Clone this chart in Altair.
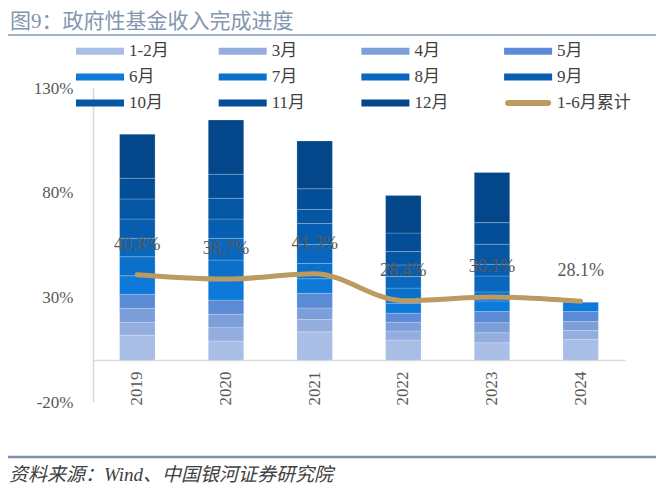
import altair as alt
import pandas as pd

years = ["2019", "2020", "2021", "2022", "2023", "2024"]
months = ["1-2月", "3月", "4月", "5月", "6月", "7月", "8月", "9月", "10月", "11月", "12月"]

m1_2 = [11.9, 9.1, 13.5, 9.6, 8.3, 9.9]
m3 = [6.1, 6.4, 5.9, 4.3, 4.8, 4.2]
m4 = [6.7, 6.4, 5.5, 4.2, 4.8, 4.3]
m5 = [6.7, 6.8, 7.0, 4.3, 5.3, 4.8]
m6 = [8.9, 10.4, 7.0, 4.8, 5.1, 4.4]
m7 = [9.1, 8.7, 7.3, 7.2, 4.3, None]
m8 = [8.8, 10.4, 9.1, 5.5, 7.6, None]
m9 = [9.2, 9.2, 10.0, 5.6, 5.6, None]
m10 = [9.6, 9.9, 6.7, 6.4, 9.6, None]
m11 = [9.9, 11.5, 9.9, 8.8, 10.3, None]
m12 = [21.0, 25.9, 22.8, 18.0, 23.9, None]
cum_1_6 = [40.8, 38.7, 41.3, 28.4, 30.1, 28.1]
line_name = "1-6月累计"

y_ticks = [-20, 30, 80, 130]

title_text = "图9：政府性基金收入完成进度"
source_text = "资料来源：Wind、中国银河证券研究院"

month_colors = ["#A8BEE5", "#93ADDF", "#7C9ED9", "#5B8BD5", "#0D7AD9", "#0A70CA",
                "#0967BD", "#075EB0", "#0557A4", "#044E97", "#03468A"]
gold = "#BC9A62"
serif = "Liberation Serif, Noto Sans CJK SC"

series = [m1_2, m3, m4, m5, m6, m7, m8, m9, m10, m11, m12]
rows = []
for mi, (mname, vals) in enumerate(zip(months, series)):
    for y, v in zip(years, vals):
        if v is not None:
            rows.append({"year": y, "month": mname, "mi": mi, "value": v})
bars_df = pd.DataFrame(rows)

line_df = pd.DataFrame({"year": years, "cum": cum_1_6,
                        "lab": [f"{v:.1f}%" for v in cum_1_6]})

leg_labels = months + [line_name]
leg_colors = month_colors + [gold]
leg_df = pd.DataFrame({"label": leg_labels, "i": list(range(len(leg_labels)))})
leg_df["col"] = leg_df["i"] % 4
leg_df["row"] = leg_df["i"] // 4
leg_df["isline"] = leg_df["label"] == line_name

x_enc = alt.X("year:N", sort=years,
              scale=alt.Scale(paddingInner=0.6, paddingOuter=0.3),
              axis=alt.Axis(title=None, labelAngle=270, ticks=False, labelPadding=11,
                            offset=-42, domainColor="#D9D9D9", domainWidth=1.5,
                            labelFont=serif, labelFontSize=17, labelColor="#595959"))
y_scale = alt.Scale(domain=[-20, 130], nice=False, zero=False)

bars = alt.Chart(bars_df).mark_bar(stroke="#FFFFFF", strokeWidth=0.6, strokeOpacity=0.35).encode(
    x=x_enc,
    y=alt.Y("value:Q", stack="zero", scale=y_scale,
            axis=alt.Axis(title=None, values=y_ticks, ticks=False, grid=False, labelPadding=20,
                          labelExpr="datum.value + '%'", domainColor="#D9D9D9", domainWidth=1.5,
                          labelFont=serif, labelFontSize=17, labelColor="#595959")),
    color=alt.Color("month:N", scale=alt.Scale(domain=months, range=month_colors), legend=None),
    order=alt.Order("mi:Q", sort="ascending"),
)

line = alt.Chart(line_df).mark_line(color=gold, strokeWidth=5, interpolate="monotone",
                                    strokeCap="round").encode(
    x=alt.X("year:N", sort=years),
    y=alt.Y("cum:Q", scale=y_scale),
)

labels = alt.Chart(line_df).mark_text(dy=-30, fontSize=18, color="#595959", font=serif).encode(
    x=alt.X("year:N", sort=years),
    y=alt.Y("cum:Q", scale=y_scale),
    text="lab:N",
)

main = alt.layer(bars, line, labels)

lx = alt.Scale(domain=[0, 1], range=[-17, 125.7], nice=False, zero=False)
ly = alt.Scale(domain=[0, 1], range=[-36.7, -10.9], nice=False, zero=False)

leg_rects = alt.Chart(leg_df).transform_filter("!datum.isline").transform_calculate(
    colEnd="datum.col + 48/142.7"
).mark_rule(strokeWidth=7, strokeCap="butt").encode(
    x=alt.X("col:Q", scale=lx, axis=None),
    x2="colEnd:Q",
    y=alt.Y("row:Q", scale=ly, axis=None),
    color=alt.Color("label:N", scale=alt.Scale(domain=leg_labels, range=leg_colors), legend=None),
)

leg_line = alt.Chart(leg_df).transform_filter("datum.isline").transform_calculate(
    c0="datum.col + 4/142.7", c1="datum.col + 44/142.7"
).mark_rule(strokeWidth=6, strokeCap="round", color=gold).encode(
    x=alt.X("c0:Q", scale=lx, axis=None),
    x2="c1:Q",
    y=alt.Y("row:Q", scale=ly, axis=None),
)

leg_text = alt.Chart(leg_df).mark_text(align="left", baseline="middle", dx=53, fontSize=17,
                                       color="#404040", font=serif).encode(
    x=alt.X("col:Q", scale=lx, axis=None),
    y=alt.Y("row:Q", scale=ly, axis=None),
    text="label:N",
)

legend = alt.layer(leg_rects, leg_line, leg_text)

title = alt.Chart(pd.DataFrame({"t": [title_text]})).mark_text(
    align="left", baseline="middle", fontSize=21, color="#8496B0", font=serif
).encode(x=alt.value(-83), y=alt.value(-66), text="t:N")

title_rule = alt.Chart(pd.DataFrame({"t": [0]})).mark_rule(color="#8497B0", strokeWidth=1.5).encode(
    x=alt.value(-90), x2=alt.value(567), y=alt.value(-53))

bottom_rule = alt.Chart(pd.DataFrame({"t": [0]})).mark_rule(color="#7F8FA9", strokeWidth=2.5).encode(
    x=alt.value(-90), x2=alt.value(567), y=alt.value(369))

source = alt.Chart(pd.DataFrame({"t": [source_text]})).mark_text(
    align="left", baseline="middle", fontSize=19, color="#404040", font=serif, fontStyle="italic"
).encode(x=alt.value(-84), y=alt.value(387), text="t:N")

chart = alt.layer(main, legend, title, title_rule, bottom_rule, source).resolve_scale(
    x="independent", y="independent", color="independent"
).properties(
    width=532, height=314,
    autosize=alt.AutoSizeParams(type="none"),
    padding={"left": 85, "top": 80, "right": 31, "bottom": 84},
).configure_view(strokeWidth=0)

chart.save("out.html", embed_options={"renderer": "svg", "actions": False})
